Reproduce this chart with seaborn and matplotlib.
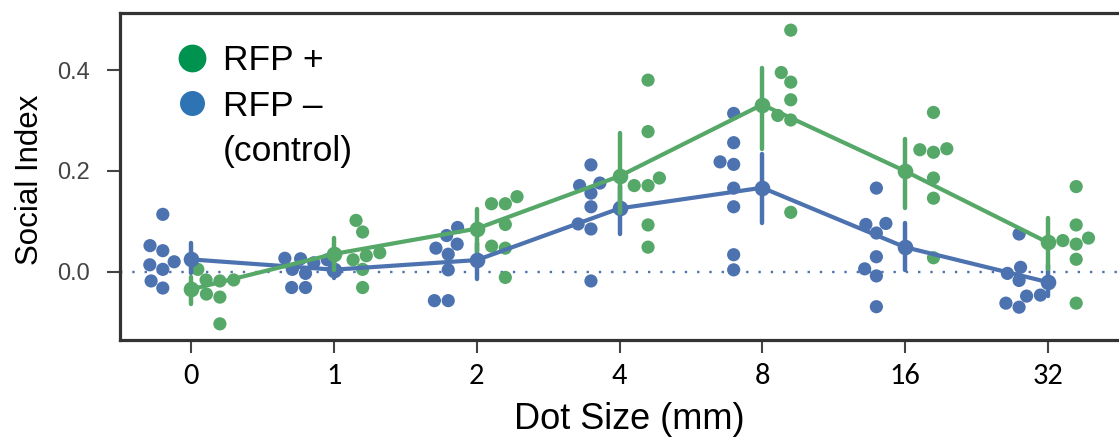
import numpy as np
import pandas as pd
import matplotlib
matplotlib.use("Agg")
import matplotlib.pyplot as plt
import matplotlib.transforms as mtrans
from matplotlib.lines import Line2D
import seaborn as sns

# ---------------- data ----------------
dot_sizes = ["0", "1", "2", "4", "8", "16", "32"]
groups = ["RFP –", "RFP +"]

rfp_minus = {
    "0":  [0.114, 0.052, 0.042, 0.020, 0.014, 0.005, -0.018, -0.032],
    "1":  [0.027, 0.026, 0.024, 0.018, 0.005, -0.003, -0.031, -0.031],
    "2":  [0.088, 0.072, 0.055, 0.047, 0.035, 0.004, -0.057, -0.057],
    "4":  [0.212, 0.176, 0.171, 0.156, 0.129, 0.095, 0.085, -0.018],
    "8":  [0.314, 0.256, 0.218, 0.213, 0.166, 0.129, 0.034, 0.004],
    "16": [0.166, 0.096, 0.094, 0.077, 0.030, 0.006, -0.008, -0.069],
    "32": [0.075, 0.009, -0.003, -0.017, -0.046, -0.048, -0.062, -0.070],
}
rfp_plus = {
    "0":  [0.005, -0.016, -0.018, -0.016, -0.044, -0.050, -0.103],
    "1":  [0.102, 0.079, 0.038, 0.032, 0.024, 0.005, -0.031],
    "2":  [0.149, 0.135, 0.135, 0.094, 0.051, 0.047, -0.011],
    "4":  [0.380, 0.278, 0.186, 0.171, 0.171, 0.093, 0.049],
    "8":  [0.479, 0.395, 0.376, 0.341, 0.310, 0.301, 0.118],
    "16": [0.316, 0.244, 0.242, 0.237, 0.186, 0.146, 0.028],
    "32": [0.169, 0.093, 0.067, 0.062, 0.055, 0.025, -0.062],
}

y_ticks = [0.0, 0.2, 0.4]
x_label = "Dot Size (mm)"
y_label = "Social Index"
legend_labels = ["RFP +", "RFP –", "(control)"]

rows = []
for grp, d in zip(groups, [rfp_minus, rfp_plus]):
    for ds in dot_sizes:
        for v in d[ds]:
            rows.append({"dot": ds, "group": grp, "si": v})
df = pd.DataFrame(rows)

# ---------------- style ----------------
sns.set_style("ticks")
plt.rcParams["font.family"] = ["Liberation Sans", "DejaVu Sans"]
plt.rcParams["text.color"] = "black"

palette = {"RFP –": "#4c72b0", "RFP +": "#55a868"}

fig = plt.figure(figsize=(11.19, 4.47), dpi=100)
ax = fig.add_axes([120 / 1119, 107 / 447, 999 / 1119, 327 / 447])

sns.swarmplot(data=df, x="dot", y="si", hue="group", order=dot_sizes,
              hue_order=groups, palette=palette, dodge=True, size=9.5,
              linewidth=0, legend=False, ax=ax, zorder=1)
sns.pointplot(data=df, x="dot", y="si", hue="group", order=dot_sizes,
              hue_order=groups, palette=palette, dodge=False,
              errorbar=("ci", 95), seed=1, markers="o", markersize=9,
              linewidth=3.0, err_kws={"linewidth": 3.2}, legend=False,
              ax=ax)

ax.axhline(0, color="#4c72b0", lw=1.7, ls=(0, (1, 4.2)), zorder=0)

ax.set_xlim(-0.5, 6.5)
ax.set_ylim(-0.135, 0.513)
ax.set_yticks(y_ticks)
ax.set_yticklabels([f"{t:.1f}" for t in y_ticks], color="#444444",
                   fontsize=17)
ax.set_xticks(range(len(dot_sizes)))
ax.set_xticklabels(dot_sizes, fontsize=22, color="black",
                   family=["Carlito", "Liberation Sans", "DejaVu Sans"])
shift = mtrans.ScaledTranslation(10 / 100, 0, fig.dpi_scale_trans)
for lab in ax.get_xticklabels():
    lab.set_transform(lab.get_transform() + shift)

for side in ["left", "top", "bottom"]:
    ax.spines[side].set_linewidth(2.3)
    ax.spines[side].set_color("#333333")
ax.spines["right"].set_visible(False)
ax.tick_params(axis="both", direction="out", length=9.5, width=1.5,
               color="#444444")
ax.tick_params(axis="y", pad=12)
ax.tick_params(axis="x", pad=7)

ax.set_xlabel(x_label, fontsize=26, color="black")
ax.set_ylabel(y_label, fontsize=22.5, color="black")
ax.xaxis.set_label_coords(0.51, -0.19)
ax.yaxis.set_label_coords(-0.075, 0.49)

handles = [
    Line2D([], [], ls="none", marker="o", markersize=20,
           markerfacecolor="#00924f", markeredgecolor="none"),
    Line2D([], [], ls="none", marker="o", markersize=18,
           markerfacecolor="#2e74b5", markeredgecolor="none"),
    Line2D([], [], ls="none"),
]
leg = fig.legend(handles, legend_labels, loc="upper left",
                 bbox_to_anchor=(174 / 1119, 1 - 44 / 447), frameon=False,
                 fontsize=25.5, handlelength=1.0, handletextpad=0.38,
                 labelspacing=0.36, borderpad=0, borderaxespad=0)
for t in leg.get_texts():
    t.set_color("black")

fig.savefig("out.png", dpi=100)
